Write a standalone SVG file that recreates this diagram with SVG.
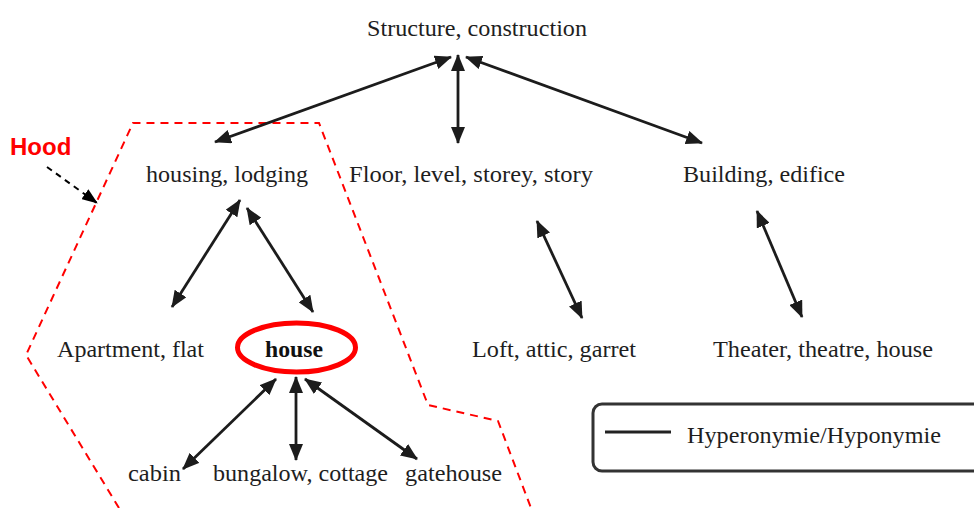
<svg xmlns="http://www.w3.org/2000/svg" width="974" height="508" viewBox="0 0 974 508">
  <style>
    .lbl { font-family: "Liberation Serif", "DejaVu Serif", "Times New Roman", serif; font-size: 24px; fill: #1e1e1e; }
    .bold { font-weight: bold; fill: #111; }
    .rel { stroke: #1c1c1c; stroke-width: 2.8; fill: none; marker-start: url(#head); marker-end: url(#head); }
    .hood { font-family: "Liberation Sans", Arial, sans-serif; font-size: 24px; font-weight: bold; fill: #f00; }
  </style>
  <defs>
    <marker id="head" viewBox="0 0 17 14" refX="16" refY="7" markerWidth="17" markerHeight="14" markerUnits="userSpaceOnUse" orient="auto-start-reverse">
      <path d="M0,0 L17,7 L0,14 z" fill="#1c1c1c"/>
    </marker>
    <marker id="pointer" viewBox="0 0 16 12" refX="15" refY="6" markerWidth="16" markerHeight="12" markerUnits="userSpaceOnUse" orient="auto">
      <path d="M0,0 L16,6 L0,12 z" fill="#000"/>
    </marker>
  </defs>

  <rect width="974" height="508" fill="#fff"/>

  <!-- neighbourhood outline -->
  <g id="hood-region">
    <polyline points="119,508 26,355 133,123 319,123 428,405 498,421 531,508" fill="none" stroke="#f00" stroke-width="2" stroke-dasharray="8 6"/>
    <text class="hood" x="10" y="155">Hood</text>
    <line x1="47" y1="167" x2="97" y2="203" stroke="#000" stroke-width="2" stroke-dasharray="6 5" marker-end="url(#pointer)"/>
  </g>

  <!-- hyperonymy / hyponymy links -->
  <g id="connectors">
    <line class="rel" x1="451" y1="57" x2="215" y2="142"/>
    <line class="rel" x1="458" y1="55" x2="458" y2="143"/>
    <line class="rel" x1="466" y1="57" x2="702" y2="143"/>
    <line class="rel" x1="240" y1="200" x2="172" y2="307"/>
    <line class="rel" x1="247" y1="208" x2="313" y2="312"/>
    <line class="rel" x1="537" y1="221" x2="582" y2="318"/>
    <line class="rel" x1="757" y1="211" x2="802" y2="317"/>
    <line class="rel" x1="276" y1="379" x2="183" y2="469"/>
    <line class="rel" x1="296" y1="377" x2="296" y2="460"/>
    <line class="rel" x1="305" y1="379" x2="417" y2="459"/>
  </g>

  <g id="structure"><text class="lbl" x="367" y="36" textLength="220" lengthAdjust="spacingAndGlyphs">Structure, construction</text></g>
  <g id="housing"><text class="lbl" x="146" y="182" textLength="162" lengthAdjust="spacingAndGlyphs">housing, lodging</text></g>
  <g id="floor"><text class="lbl" x="349" y="182" textLength="244" lengthAdjust="spacingAndGlyphs">Floor, level, storey, story</text></g>
  <g id="building"><text class="lbl" x="683" y="182" textLength="162" lengthAdjust="spacingAndGlyphs">Building, edifice</text></g>
  <g id="apartment"><text class="lbl" x="57" y="357" textLength="147" lengthAdjust="spacingAndGlyphs">Apartment, flat</text></g>
  <g id="house">
    <ellipse cx="296.5" cy="347.5" rx="59" ry="24.5" fill="none" stroke="#f00" stroke-width="5"/>
    <text class="lbl bold" x="265" y="357" textLength="58" lengthAdjust="spacingAndGlyphs">house</text>
  </g>
  <g id="loft"><text class="lbl" x="472" y="357" textLength="164" lengthAdjust="spacingAndGlyphs">Loft, attic, garret</text></g>
  <g id="theater"><text class="lbl" x="713" y="357" textLength="220" lengthAdjust="spacingAndGlyphs">Theater, theatre, house</text></g>
  <g id="cabin"><text class="lbl" x="128" y="481" textLength="53" lengthAdjust="spacingAndGlyphs">cabin</text></g>
  <g id="bungalow"><text class="lbl" x="213" y="481" textLength="175" lengthAdjust="spacingAndGlyphs">bungalow, cottage</text></g>
  <g id="gatehouse"><text class="lbl" x="405" y="481" textLength="97" lengthAdjust="spacingAndGlyphs">gatehouse</text></g>

  <!-- legend -->
  <g id="legend">
    <rect x="593" y="404" width="400" height="67" rx="9" fill="#fff" stroke="#333" stroke-width="3"/>
    <line x1="605" y1="432" x2="671" y2="432" stroke="#222" stroke-width="3"/>
    <text class="lbl" x="687" y="443" textLength="254" lengthAdjust="spacingAndGlyphs">Hyperonymie/Hyponymie</text>
  </g>
</svg>
